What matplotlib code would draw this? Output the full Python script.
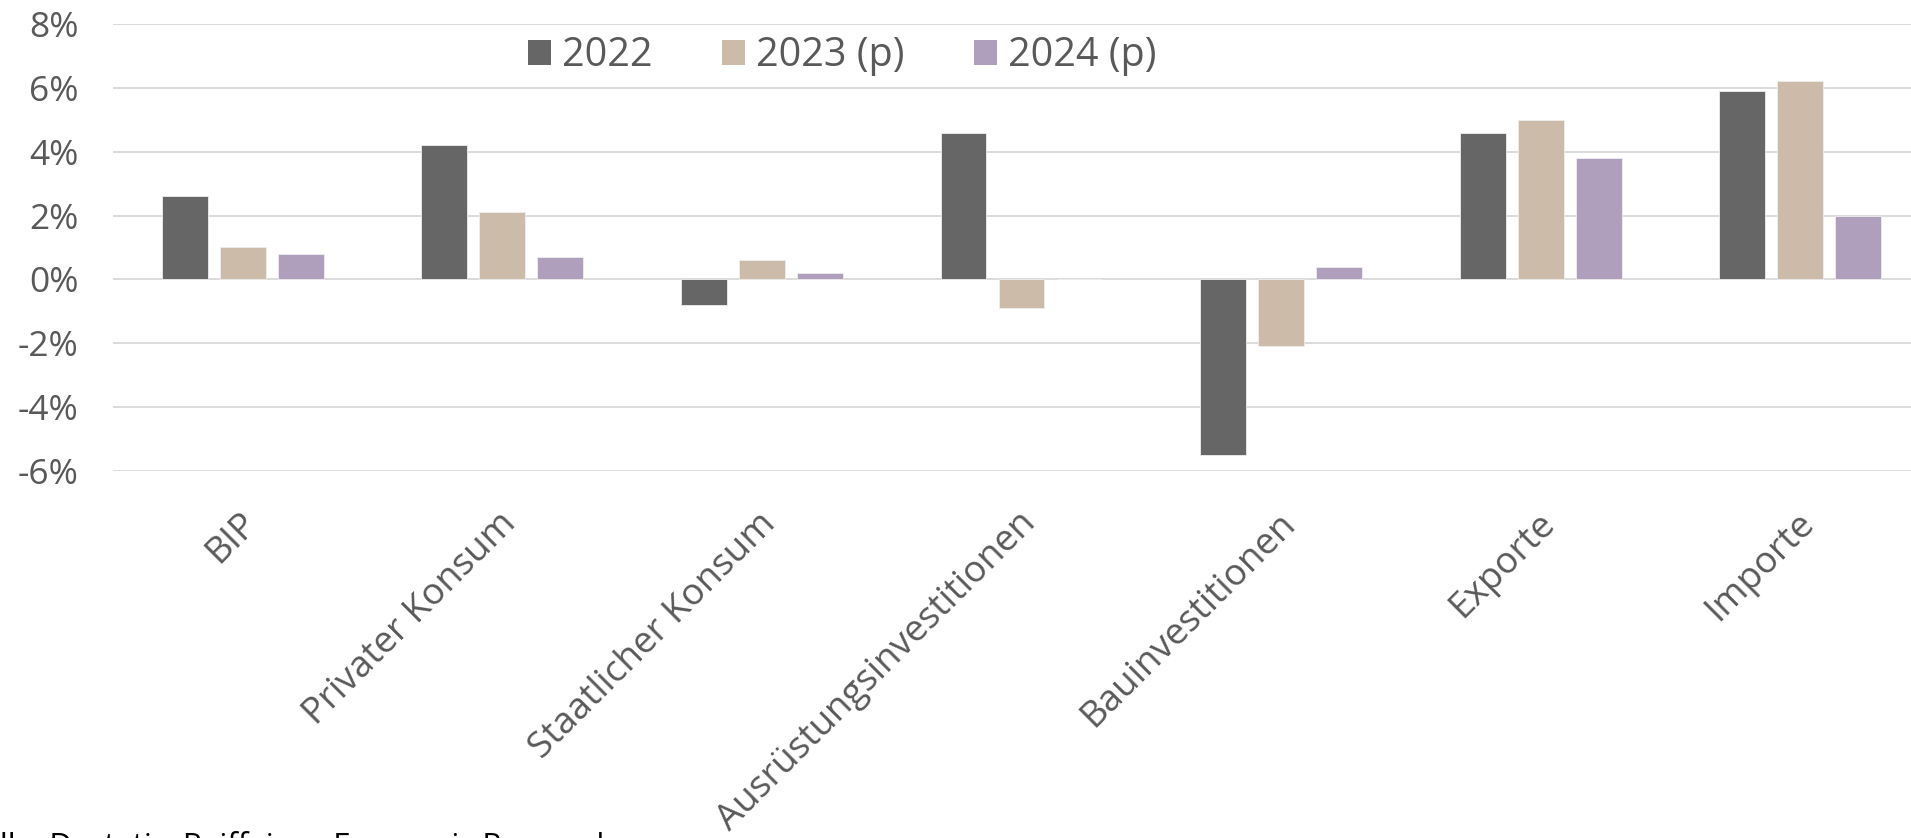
import matplotlib
matplotlib.use("Agg")
import matplotlib.pyplot as plt
import matplotlib.transforms as mtransforms
from matplotlib.patches import Patch
from matplotlib.ticker import FuncFormatter
import numpy as np

categories = ["BIP", "Privater Konsum", "Staatlicher Konsum", "Ausrüstungsinvestitionen",
              "Bauinvestitionen", "Exporte", "Importe"]
series_names = ["2022", "2023 (p)", "2024 (p)"]
v2022 = [2.6, 4.2, -0.8, 4.6, -5.5, 4.6, 5.9]
v2023 = [1.0, 2.1, 0.6, -0.9, -2.1, 5.0, 6.2]
v2024 = [0.8, 0.7, 0.2, 0.0, 0.4, 3.8, 2.0]
yticks = [-6, -4, -2, 0, 2, 4, 6, 8]
colors = ["#666666", "#CDBBA9", "#AF9EBC"]

plt.rcParams['font.family'] = ['Open Sans', 'DejaVu Sans']
plt.rcParams['savefig.bbox'] = 'standard'
W, H = 1911, 838
fig = plt.figure(figsize=(W / 100, H / 100), dpi=100)
# plot area extends slightly past the right edge of the picture (cropped like the original)
ax = fig.add_axes([113 / W, 1 - 471 / H, (1930 - 113) / W, (471 - 24) / H])
ax.set_clip_on(False)

x = np.arange(len(categories))
width = 0.177
pitch = 0.2234
for i, (vals, c) in enumerate(zip([v2022, v2023, v2024], colors)):
    ax.bar(x + (i - 1) * pitch, vals, width=width, color=c, edgecolor="#eeeeee",
           linewidth=0.6, zorder=3)

ax.set_xlim(-0.5, len(categories) - 0.5)
ax.set_ylim(-6, 8)
ax.set_yticks(yticks)
ax.yaxis.set_major_formatter(FuncFormatter(lambda v, p: f"{int(v)}%"))
ax.grid(axis="y", color="#d9d9d9", linewidth=1.3, zorder=0)
ax.set_axisbelow(True)
for s in ax.spines.values():
    s.set_visible(False)
ax.tick_params(axis="y", length=0, pad=25, labelsize=25.5, labelcolor="#595959")
ax.tick_params(axis="x", length=0, pad=34, labelsize=26.5, labelcolor="#595959")
ax.set_xticks(x)
ax.set_xticklabels(categories, rotation=45, ha="right", va="center", rotation_mode="anchor")
shift = mtransforms.ScaledTranslation(9 / 100, 0, fig.dpi_scale_trans)
for lab in ax.get_xticklabels():
    lab.set_transform(lab.get_transform() + shift)

handles = [Patch(facecolor=c, edgecolor="none") for c in colors]
fig.legend(handles, series_names, loc="center", bbox_to_anchor=(842 / W, 1 - 56 / H),
           ncol=3, frameon=False, fontsize=28.5, handlelength=0.58, handleheight=0.58,
           handletextpad=0.28, columnspacing=1.75, labelcolor="#595959",
           borderpad=0, borderaxespad=0)

footer = "Quelle: Destatis, Raiffeisen Economic Research"
fig.canvas.draw()
r = fig.canvas.get_renderer()
tmp = fig.text(0, 0, "Que", fontsize=22.5)
wq = tmp.get_window_extent(r).width
tmp.remove()
fig.text(-wq / W, 6 / H, footer, fontsize=22.5, color="#000000", va="top", ha="left")

fig.savefig("out.png", dpi=100)
